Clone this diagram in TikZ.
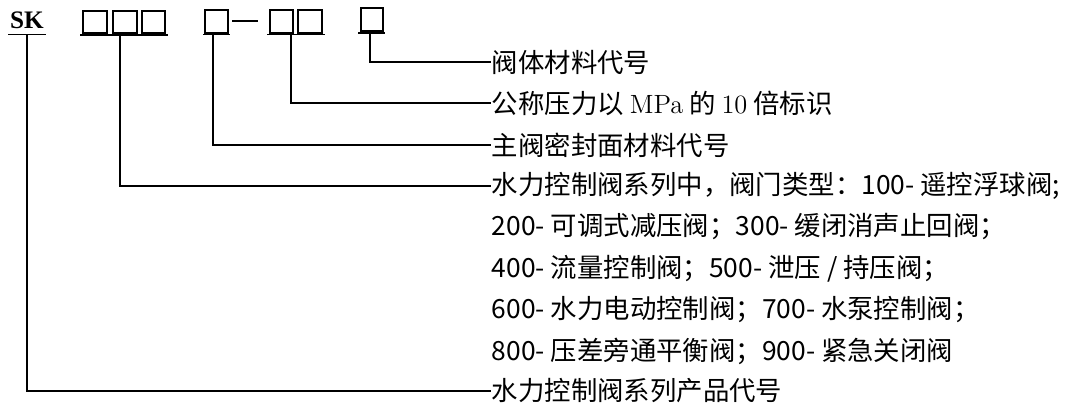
\documentclass[tikz,border=0pt]{standalone}
\usepackage{fontspec}
\newfontfamily\cjk{Noto Sans CJK SC}
\newfontfamily\timesfont{Liberation Serif}
\begin{document}
\begin{tikzpicture}[x=0.5pt,y=-0.5pt,line width=0.9pt,
  lbl/.style={anchor=west,inner sep=0pt,font=\cjk\fontsize{13.2}{15}\selectfont},
  codebox/.style={line width=0.8pt},
  codetext/.style={inner sep=0pt,font=\timesfont\bfseries\fontsize{12.6}{12.6}\selectfont}]
\useasboundingbox (0,0) rectangle (1074,406);
% header code
\node[codetext] (sk) at (27,20) {SK};
\draw (8,34.5) -- (46,34.5);
\draw[codebox] (83,11) rectangle (107,33);
\draw[codebox] (113,11) rectangle (137,33);
\draw[codebox] (142,11) rectangle (165,33);
\draw (80,35) -- (168,35);
\draw[codebox] (205,10) rectangle (228,33);
\draw (232,21) -- (258,21);
\draw (203,34.5) -- (230,34.5);
\draw[codebox] (270,10) rectangle (293,33);
\draw[codebox] (298,10) rectangle (322,33);
\draw (267,34.5) -- (325,34.5);
\draw[codebox] (361,8) rectangle (383,31);
\draw (358,33) -- (385,33);
% labels
\node[lbl] (r1) at (491,62) {阀体材料代号};
\node[lbl] (r2) at (491,103) {公称压力以 {\rmfamily MPa} 的 {\rmfamily 10} 倍标识};
\node[lbl] (r3) at (491,145) {主阀密封面材料代号};
\node[lbl] (r4) at (491,186) {水力控制阀系列中，阀门类型：100- 遥控浮球阀;};
\node[lbl] (r5) at (491,227) {200- 可调式减压阀；300- 缓闭消声止回阀；};
\node[lbl] (r6) at (491,269) {400- 流量控制阀；500- 泄压 / 持压阀；};
\node[lbl] (r7) at (491,310) {600- 水力电动控制阀；700- 水泵控制阀；};
\node[lbl] (r8) at (491,351) {800- 压差旁通平衡阀；900- 紧急关闭阀};
\node[lbl] (r9) at (491,391) {水力控制阀系列产品代号};
% connectors
\coordinate (c1) at (370,33);
\coordinate (c2) at (291,34.5);
\coordinate (c3) at (213,34.5);
\coordinate (c4) at (120,35);
\coordinate (c5) at (27,34.5);
\draw (c1) |- (r1.west);
\draw (c2) |- (r2.west);
\draw (c3) |- (r3.west);
\draw (c4) |- (r4.west);
\draw (c5) |- (r9.west);
\end{tikzpicture}
\end{document}
